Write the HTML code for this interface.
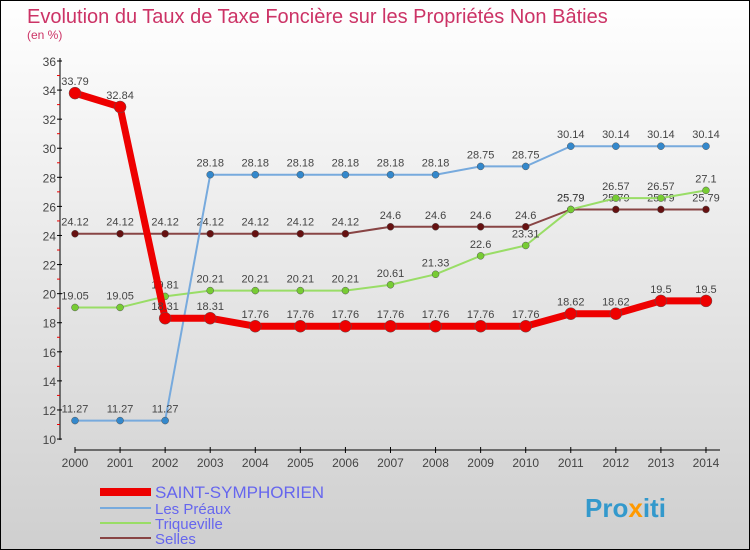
<!DOCTYPE html>
<html><head><meta charset="utf-8"><style>
body{margin:0}
#c{width:750px;height:550px;position:relative;overflow:hidden}
text{font-family:"Liberation Sans",sans-serif}
</style></head><body>
<div id="c">
<svg id="s" width="750" height="550" xmlns="http://www.w3.org/2000/svg">
<defs><linearGradient id="bg" x1="0" y1="0" x2="0" y2="1"><stop offset="0" stop-color="#ffffff"/><stop offset="1" stop-color="#cfcfcf"/></linearGradient></defs>
<rect x="0.5" y="0.5" width="749" height="549" fill="url(#bg)" stroke="#000"/>
<text x="27" y="23" font-size="20" fill="#cc3366">Evolution du Taux de Taxe Foncière sur les Propriétés Non Bâties</text>
<text x="27" y="39" font-size="12" fill="#cc3366">(en %)</text>
<g id="axes"></g><g id="series"></g><g id="legend"></g>
<text x="585" y="517" font-size="26" font-weight="bold" fill="#3399cc">Pro<tspan fill="#ff9900">x</tspan>iti</text>
</svg></div>
<script>
const years=[2000,2001,2002,2003,2004,2005,2006,2007,2008,2009,2010,2011,2012,2013,2014];
const yTicks=[10,12,14,16,18,20,22,24,26,28,30,32,34,36];
const saint=[33.79,32.84,18.31,18.31,17.76,17.76,17.76,17.76,17.76,17.76,17.76,18.62,18.62,19.5,19.5];
const preaux=[11.27,11.27,11.27,28.18,28.18,28.18,28.18,28.18,28.18,28.75,28.75,30.14,30.14,30.14,30.14];
const trique=[19.05,19.05,19.81,20.21,20.21,20.21,20.21,20.61,21.33,22.6,23.31,25.79,26.57,26.57,27.1];
const selles=[24.12,24.12,24.12,24.12,24.12,24.12,24.12,24.6,24.6,24.6,24.6,25.79,25.79,25.79,25.79];
const NS="http://www.w3.org/2000/svg";
const X=i=>75+i*45.07, Y=v=>61+(36-v)*14.54;
function mk(t,a,p,txt){const e=document.createElementNS(NS,t);for(const k in a)e.setAttribute(k,a[k]);if(txt!==undefined)e.textContent=txt;p.appendChild(e);return e;}
const ax=document.getElementById('axes');
let e=mk('line',{x1:60,y1:58,x2:60,y2:440,stroke:'#000'},ax);


yTicks.forEach(v=>{mk('line',{x1:57,y1:Y(v),x2:62,y2:Y(v),stroke:'#000'},ax);
 if(v<36)mk('line',{x1:57,y1:Y(v+1),x2:60,y2:Y(v+1),stroke:'#e00'},ax);
 const t=mk('text',{x:56,y:Y(v)+5,'font-size':12,'text-anchor':'end',fill:'#444'},ax,v);
 
 });
e=mk('line',{x1:75,y1:450,x2:720,y2:450,stroke:'#000'},ax);


years.forEach((y,i)=>{mk('line',{x1:X(i),y1:447,x2:X(i),y2:453,stroke:'#000'},ax);
 const t=mk('text',{x:X(i),y:467,'font-size':12,'text-anchor':'middle',fill:'#444'},ax,y);
 
 });
const sg=document.getElementById('series');
function series(d,col,dot,w,r,name){const g=mk('g',{},sg);
 
 
 mk('polyline',{points:d.map((v,i)=>X(i)+','+Y(v)).join(' '),fill:'none',stroke:col,'stroke-width':w},g);
 d.forEach((v,i)=>{const c=mk('circle',{cx:X(i),cy:Y(v),r:r,fill:dot,stroke:'#555','stroke-width':0.5},g);
  
  
  const t=mk('text',{x:X(i),y:Y(v)-8,'font-size':11,'text-anchor':'middle',fill:'#444'},g,v);
  
  });}
series(selles,'#884444','#661111',2,3.5,'selles-series');
series(trique,'#99dd66','#77cc33',2,3.5,'triqueville-series');
series(preaux,'#77aadd','#3388cc',2,3.5,'les-preaux-series');
series(saint,'#ee0000','#ee0000',7,6,'saint-symphorien-series');
const lg=document.getElementById('legend');
[['SAINT-SYMPHORIEN','#ee0000',8,492],['Les Préaux','#77aadd',2,508],['Triqueville','#99dd66',2,523],['Selles','#884444',2,538]].forEach(([n,c,w,y])=>{
 const g=mk('g',{},lg);
 
 
 mk('line',{x1:100,y1:y,x2:151,y2:y,stroke:c,'stroke-width':w},g);
 mk('text',{x:155,y:y+6,'font-size':n.length>12?17:15,fill:'#6666ee'},g,n);});
</script>
</body></html>
